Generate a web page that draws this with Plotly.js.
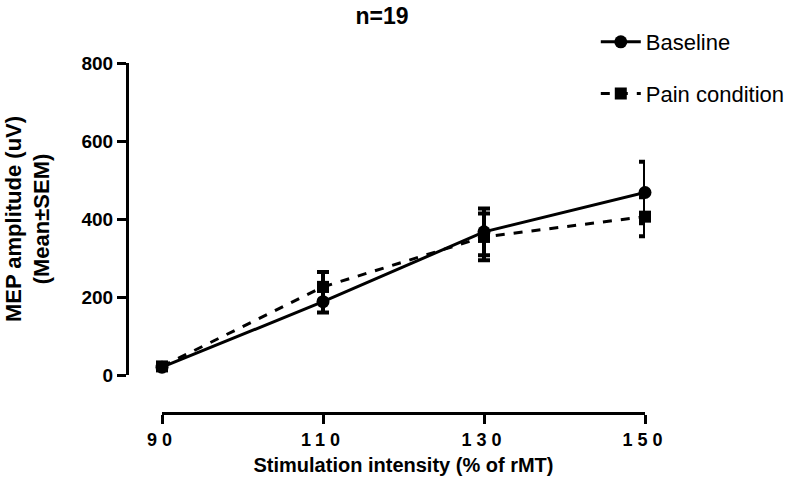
<!DOCTYPE html>
<html>
<head>
<meta charset="utf-8">
<script src="https://cdn.plot.ly/plotly-3.0.1.min.js"></script>
<style>
  body { margin: 0; background: #fff; }
  #chart { width: 786px; height: 489px; }
  .xtick text { letter-spacing: 5px; }
</style>
</head>
<body>
<div id="chart"></div>
<script>
const intensity = [90, 110, 130, 150];

const baselineMean = [20, 188, 367, 468];
const baselineSem = [6, 28, 60, 79];

const painMean = [22, 226, 354, 406];
const painSem = [6, 38, 60, 50];

const font = { family: 'Liberation Sans, Arial, sans-serif', color: '#000' };

const data = [
    {
        x: intensity,
        y: baselineMean,
        name: 'Baseline',
        type: 'scatter',
        mode: 'lines+markers',
        legendgroup: 'a',
        line: { color: '#000', width: 3 },
        marker: { symbol: 'circle', size: 13, color: '#000' },
        error_y: { type: 'data', array: baselineSem, color: '#000', thickness: 4, width: 6 },
        cliponaxis: false
    },
    {
        x: intensity,
        y: painMean,
        name: 'Pain condition',
        type: 'scatter',
        mode: 'lines+markers',
        legendgroup: 'b',
        line: { color: '#000', width: 3, dash: 'dash' },
        marker: { symbol: 'square', size: 12, color: '#000' },
        error_y: { type: 'data', array: painSem, color: '#000', thickness: 4, width: 6 },
        cliponaxis: false
    }
];

const layout = {
    width: 786,
    height: 489,
    margin: { l: 127, r: 141, t: 63, b: 76, autoexpand: false },
    paper_bgcolor: '#fff',
    plot_bgcolor: '#fff',
    font: { ...font, size: 18 },
    title: {
        text: '<b>n=19</b>',
        x: 0.486, xref: 'container',
        y: 0.967, yref: 'container', yanchor: 'middle',
        font: { ...font, size: 23 }
    },
    showlegend: true,
    legend: {
        x: 0.905, xanchor: 'left',
        y: 1.12, yanchor: 'top',
        itemwidth: 40,
        tracegroupgap: 20,
        font: { ...font, size: 22 },
        bgcolor: 'rgba(0,0,0,0)'
    },
    xaxis: {
        range: [90, 150],
        domain: [35 / 518, 1],
        anchor: 'free',
        position: 0,
        tickvals: intensity,
        ticktext: intensity.map(v => '<b>' + v + '</b>'),
        ticks: 'outside',
        ticklen: 9,
        tickwidth: 3,
        tickcolor: '#000',
        showline: true,
        linewidth: 3,
        linecolor: '#000',
        showgrid: false,
        zeroline: false,
        tickfont: { ...font, size: 18 },
        title: {
            text: '<b>Stimulation intensity (% of rMT)</b>',
            font: { ...font, size: 20 },
            standoff: 9
        }
    },
    yaxis: {
        range: [0, 800],
        domain: [38 / 350, 1],
        anchor: 'free',
        position: 0,
        tickvals: [0, 200, 400, 600, 800],
        ticktext: ['<b>0</b>', '<b>200</b>', '<b>400</b>', '<b>600</b>', '<b>800</b>'],
        ticks: 'outside',
        ticklen: 9,
        tickwidth: 3,
        tickcolor: '#000',
        showline: true,
        linewidth: 3,
        linecolor: '#000',
        showgrid: false,
        zeroline: false,
        tickfont: { ...font, size: 19 },
        title: {
            text: '<b>MEP amplitude (uV)<br>(Mean±SEM)</b>',
            font: { ...font, size: 22 },
            standoff: 24
        }
    }
};

Plotly.newPlot('chart', data, layout, { displayModeBar: false, staticPlot: true });
</script>
</body>
</html>
